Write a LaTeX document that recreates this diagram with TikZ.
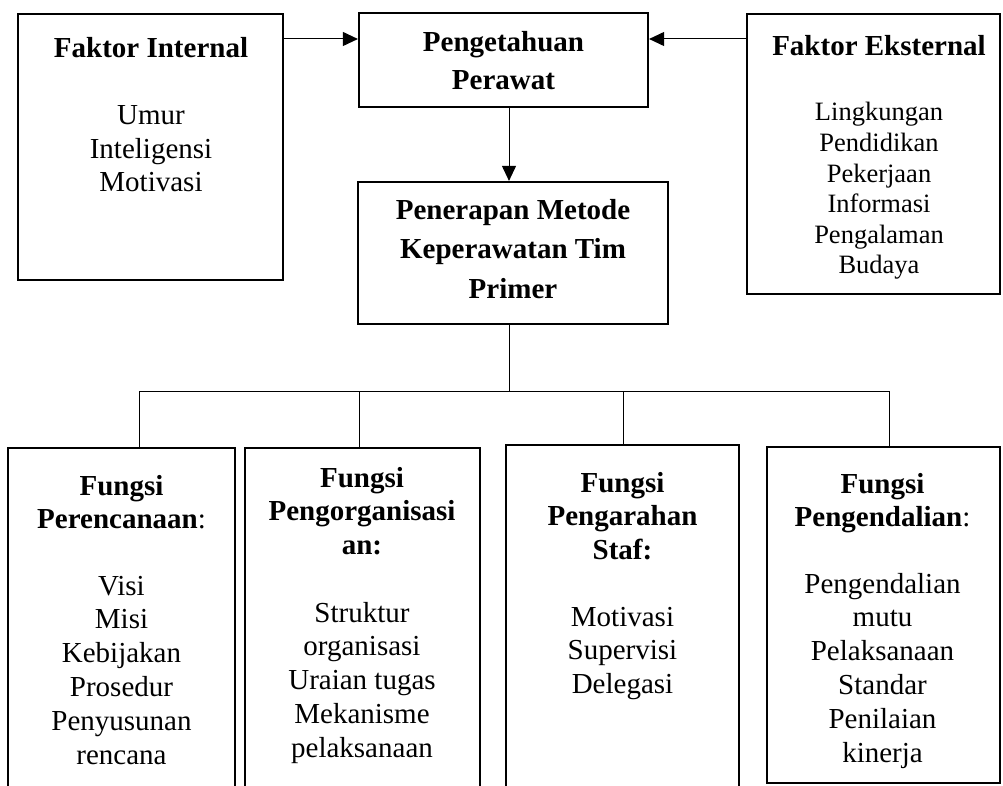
\documentclass[tikz,border=0pt]{standalone}
\usepackage{fontspec}
\setmainfont{Liberation Serif}
\usetikzlibrary{arrows.meta}
\newcommand\stk[1]{\begin{tabular}[t]{@{}c@{}}#1\end{tabular}}
\newcommand\hdfont{\fontsize{29}{37.5}\selectfont\bfseries}
\newcommand\bhdfont{\fontsize{29}{33.5}\selectfont\bfseries}
\newcommand\bodyA{\fontsize{29}{33.5}\selectfont}
\newcommand\bodyB{\fontsize{26.5}{30.6}\selectfont}
\newcommand\bodyC{\fontsize{29}{33.8}\selectfont}
\begin{document}
\begin{tikzpicture}[x=1pt,y=-1pt,
  box/.style={draw, line width=2.2pt, inner sep=0pt, rectangle},
  txt/.style={inner sep=0pt, anchor=base},
  conn/.style={line width=1pt},
  arr/.style={line width=1pt, -{Triangle[length=15pt,width=14pt]}}]
\useasboundingbox (0,0) rectangle (1003,786);
\clip (0,0) rectangle (1003,786);
\fill[white] (0,0) rectangle (1003,786);
% top boxes
\node[box, minimum width=265pt, minimum height=266pt] (fi) at (150.5,147) {};
\node[box, minimum width=289pt, minimum height=94pt] (pp) at (503.5,60) {};
\node[box, minimum width=253pt, minimum height=280pt] (fe) at (873.5,154) {};
\node[box, minimum width=310pt, minimum height=142pt] (pm) at (513,253) {};
% bottom boxes
\node[box, minimum width=227pt, minimum height=352pt] (b1) at (121.5,624) {};
\node[box, minimum width=235pt, minimum height=352pt] (b2) at (362.5,624) {};
\node[box, minimum width=233pt, minimum height=355pt] (b3) at (622.5,622.5) {};
\node[box, minimum width=233pt, minimum height=336pt] (b4) at (883.5,615) {};
% texts top
\node[txt] (fiH) at (151,58) {\hdfont Faktor Internal};
\node[txt] (fiB) at (151,125) {\bodyA\stk{Umur\\Inteligensi\\Motivasi}};
\node[txt] (ppH) at (503.5,52) {\hdfont\stk{Pengetahuan\\Perawat}};
\node[txt] (feH) at (879,56) {\hdfont Faktor Eksternal};
\node[txt] (feB) at (879,121) {\bodyB\stk{Lingkungan\\Pendidikan\\Pekerjaan\\Informasi\\Pengalaman\\Budaya}};
\node[txt] (pmH) at (513,220) {\fontsize{29}{39}\selectfont\bfseries\stk{Penerapan Metode\\Keperawatan Tim\\Primer}};
% texts bottom
\node[txt] (b1H) at (121.5,495) {\bhdfont\stk{Fungsi\\Perencanaan\mdseries:}};
\node[txt] (b1B) at (121.5,595) {\bodyC\stk{Visi\\Misi\\Kebijakan\\Prosedur\\Penyusunan\\rencana}};
\node[txt] (b2H) at (362,487) {\bhdfont\stk{Fungsi\\Pengorganisasi\\an:}};
\node[txt] (b2B) at (362,622) {\bodyC\stk{Struktur\\organisasi\\Uraian tugas\\Mekanisme\\pelaksanaan}};
\node[txt] (b3H) at (622.5,492) {\bhdfont\stk{Fungsi\\Pengarahan\\Staf:}};
\node[txt] (b3B) at (622.5,626) {\bodyC\stk{Motivasi\\Supervisi\\Delegasi}};
\node[txt] (b4H) at (882.5,493) {\bhdfont\stk{Fungsi\\Pengendalian\mdseries:}};
\node[txt] (b4B) at (882.5,593) {\bodyC\stk{Pengendalian\\mutu\\Pelaksanaan\\Standar\\Penilaian\\kinerja}};
% arrows
\coordinate (fiA) at (fi.east |- 0,39);
\coordinate (ppL) at (pp.west |- 0,39);
\coordinate (feA) at (fe.west |- 0,39);
\coordinate (ppR) at (pp.east |- 0,39);
\draw[arr] (fiA) -- (ppL);
\draw[arr] (feA) -- (ppR);
\coordinate (ppS) at (509,107);
\draw[arr] (ppS) -- (ppS |- pm.north);
% tree
\coordinate (pmS) at (509,324);
\coordinate (bus) at (509,391);
\coordinate (d1) at (139,391);
\coordinate (d2) at (359,391);
\coordinate (d3) at (623,391);
\coordinate (d4) at (889,391);
\draw[conn] (pmS) -- (bus);
\draw[conn] (d1) -- (d4);
\draw[conn] (d1) -- (d1 |- b1.north);
\draw[conn] (d2) -- (d2 |- b2.north);
\draw[conn] (d3) -- (d3 |- b3.north);
\draw[conn] (d4) -- (d4 |- b4.north);
\end{tikzpicture}
\end{document}
